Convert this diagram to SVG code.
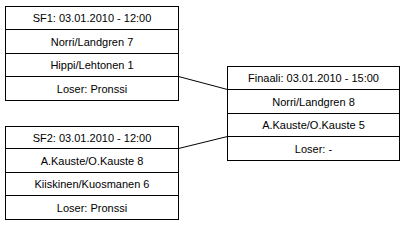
<svg xmlns="http://www.w3.org/2000/svg" width="404" height="225" viewBox="0 0 404 225">
<style>
.box{fill:#fff;stroke:#000;stroke-width:1}
.sep{stroke:#000;stroke-width:1}
.conn{stroke:#000;stroke-width:1;fill:none}
text{font-family:"Liberation Sans",Arial,sans-serif;font-size:11px;fill:#000;text-anchor:middle}
</style>
<rect width="404" height="225" fill="#fff"/>
<g id="connectors">
<line class="conn" x1="178.5" y1="76.5" x2="227.5" y2="89.5"/>
<line class="conn" x1="178.5" y1="148.5" x2="227.5" y2="136.5"/>
</g>
<g id="sf1">
<rect class="box" x="5.5" y="6.5" width="173" height="94"/>
<line class="sep" x1="5.5" y1="29.5" x2="178.5" y2="29.5"/>
<line class="sep" x1="5.5" y1="53.5" x2="178.5" y2="53.5"/>
<line class="sep" x1="5.5" y1="76.5" x2="178.5" y2="76.5"/>
<text x="92" y="22">SF1: 03.01.2010 - 12:00</text>
<text x="92" y="45.5">Norri/Landgren 7</text>
<text x="92" y="69">Hippi/Lehtonen 1</text>
<text x="92" y="92.5">Loser: Pronssi</text>
</g>
<g id="sf2">
<rect class="box" x="5.5" y="126.5" width="173" height="93"/>
<line class="sep" x1="5.5" y1="148.5" x2="178.5" y2="148.5"/>
<line class="sep" x1="5.5" y1="172.5" x2="178.5" y2="172.5"/>
<line class="sep" x1="5.5" y1="195.5" x2="178.5" y2="195.5"/>
<text x="92" y="141.5">SF2: 03.01.2010 - 12:00</text>
<text x="92" y="164.5">A.Kauste/O.Kauste 8</text>
<text x="92" y="188">Kiiskinen/Kuosmanen 6</text>
<text x="92" y="211.5">Loser: Pronssi</text>
</g>
<g id="finaali">
<rect class="box" x="227.5" y="66.5" width="172" height="94"/>
<line class="sep" x1="227.5" y1="89.5" x2="399.5" y2="89.5"/>
<line class="sep" x1="227.5" y1="113.5" x2="399.5" y2="113.5"/>
<line class="sep" x1="227.5" y1="136.5" x2="399.5" y2="136.5"/>
<text x="313.5" y="82">Finaali: 03.01.2010 - 15:00</text>
<text x="313.5" y="105.5">Norri/Landgren 8</text>
<text x="313.5" y="129">A.Kauste/O.Kauste 5</text>
<text x="313.5" y="152.5">Loser: -</text>
</g>
</svg>
